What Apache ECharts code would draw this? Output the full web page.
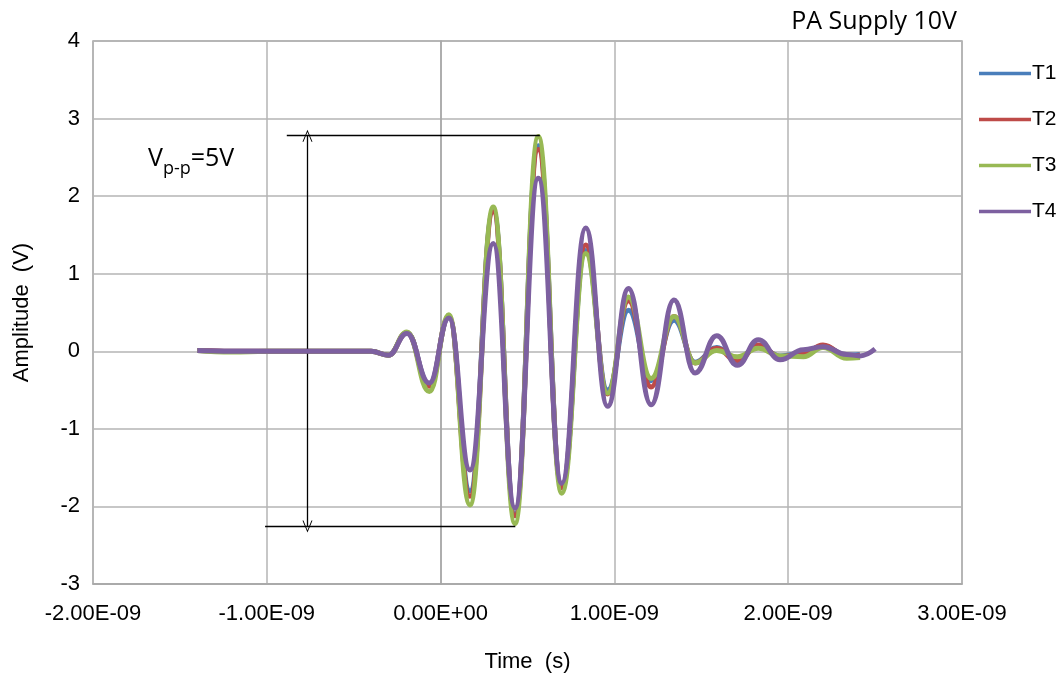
<!DOCTYPE html>
<html>
<head>
<meta charset="utf-8">
<script src="https://cdn.jsdelivr.net/npm/echarts@6/dist/echarts.min.js"></script>
<style>
html,body{margin:0;padding:0;background:#fff;}
#chart{width:1058px;height:673px;}
</style>
</head>
<body>
<div id="chart"></div>
<script>
// Time in ns (axis labels are shown in seconds)
const times = [-1.40, -1.20, -1.00, -0.80, -0.60, -0.40, -0.30, -0.194, -0.065, 0.048, 0.169, 0.303, 0.428, 0.562, 0.697, 0.835, 0.961, 1.081, 1.211, 1.343, 1.464, 1.589, 1.707, 1.828, 1.953, 2.087, 2.20, 2.337, 2.413, 2.50];
const T1 = [0.01, 0.00, 0.00, 0.00, 0.00, 0.00, -0.05, 0.24, -0.43, 0.44, -1.80, 1.82, -2.10, 2.65, -1.75, 1.30, -0.50, 0.53, -0.38, 0.40, -0.14, 0.05, -0.10, 0.07, -0.06, -0.02, 0.07, -0.05, -0.04, null];
const T2 = [0.01, 0.00, 0.00, 0.00, 0.00, 0.00, -0.05, 0.24, -0.45, 0.45, -1.87, 1.80, -2.12, 2.60, -1.76, 1.37, -0.55, 0.65, -0.46, 0.45, -0.15, 0.04, -0.13, 0.08, -0.07, -0.03, 0.08, -0.06, -0.05, null];
const T3 = [0.01, -0.01, 0.00, 0.00, 0.00, 0.00, -0.05, 0.25, -0.52, 0.47, -1.98, 1.86, -2.22, 2.77, -1.83, 1.26, -0.54, 0.70, -0.35, 0.45, -0.15, 0.01, -0.07, 0.04, -0.06, -0.07, 0.05, -0.09, -0.08, null];
const T4 = [0.01, 0.00, 0.00, 0.00, 0.00, 0.00, -0.05, 0.23, -0.41, 0.43, -1.53, 1.39, -2.02, 2.23, -1.70, 1.59, -0.71, 0.81, -0.69, 0.66, -0.28, 0.20, -0.18, 0.15, -0.11, 0.02, 0.06, -0.04, -0.06, 0.03];
const seriesNames = ['T1', 'T2', 'T3', 'T4'];
const seriesColors = ['#4a7ebb', '#be4b48', '#98b954', '#7d60a0'];
// Vp-p annotation (ns, V)
const vppTop = [[-0.885, 2.78], [0.571, 2.78]];
const vppBottom = [[-1.01, -2.26], [0.43, -2.26]];
const vppArrow = [[-0.766, 2.78], [-0.766, -2.26]];
const xTicks = {min: -2, max: 3, interval: 1};
const yTicks = {min: -3, max: 4, interval: 1};

function pairs(vals) {
  const out = [];
  for (let i = 0; i < times.length; i++) {
    if (vals[i] !== null) out.push([times[i], vals[i]]);
  }
  return out;
}
function fmtX(v) {
  if (Math.abs(v) < 1e-9) return '0.00E+00';
  return (v < 0 ? '-' : '') + Math.abs(v).toFixed(2) + 'E-09';
}
const allVals = [T1, T2, T3, T4];
const chevron = 'path://M0,10 L5,0 L10,10 L9,10 L5,2 L1,10 Z';
const series = seriesNames.map((n, i) => ({
  name: n,
  type: 'line',
  data: pairs(allVals[i]),
  smooth: 0.45,
  smoothMonotone: 'x',
  symbol: 'none',
  lineStyle: {color: seriesColors[i], width: 5},
  itemStyle: {color: seriesColors[i]},
  z: 2 + i
}));
series.push({
  name: 'annot',
  type: 'line',
  data: [],
  silent: true,
  markLine: {
    silent: true,
    symbol: ['none', 'none'],
    label: {show: false},
    lineStyle: {color: '#000', width: 1.3, type: 'solid'},
    emphasis: {disabled: true},
    data: [
      [{coord: vppTop[0]}, {coord: vppTop[1]}],
      [{coord: vppBottom[0]}, {coord: vppBottom[1]}],
      [{coord: vppArrow[0], symbol: chevron, symbolSize: [10, 12]}, {coord: vppArrow[1], symbol: chevron, symbolSize: [10, 12]}]
    ]
  }
});

const chart = echarts.init(document.getElementById('chart'));
chart.setOption({
  animation: false,
  backgroundColor: '#fff',
  textStyle: {fontFamily: 'Liberation Sans, Arial, sans-serif'},
  title: {
    text: 'PA Supply 10V',
    right: 96,
    top: 4,
    textStyle: {fontFamily: 'Open Sans, sans-serif', fontSize: 25, fontWeight: 'normal', color: '#000'}
  },
  legend: {
    data: seriesNames,
    orient: 'vertical',
    left: 974,
    top: 58,
    itemWidth: 52,
    itemHeight: 14,
    itemGap: 25,
    textStyle: {fontSize: 21, color: '#000', lineHeight: 20, padding: [0, 0, 0, -4]},
    icon: 'path://M0,6 L52,6 L52,9.5 L0,9.5 Z'
  },
  grid: {
    left: 93, top: 41, right: 96, bottom: 89,
    outerBoundsMode: 'none',
    containLabel: false,
    show: true, borderColor: '#a6a6a6', borderWidth: 1.5
  },
  xAxis: {
    type: 'value',
    min: xTicks.min, max: xTicks.max, interval: xTicks.interval,
    name: 'Time  (s)',
    nameLocation: 'middle',
    nameGap: 67,
    nameTextStyle: {fontSize: 22, color: '#000'},
    axisLine: {onZero: false, lineStyle: {color: '#a6a6a6', width: 1.5}},
    axisTick: {show: false},
    axisLabel: {formatter: fmtX, fontSize: 22, color: '#000', margin: 19},
    splitLine: {lineStyle: {color: '#b4b4b4', width: 1.5}}
  },
  yAxis: {
    type: 'value',
    min: yTicks.min, max: yTicks.max, interval: yTicks.interval,
    name: 'Amplitude  (V)',
    nameLocation: 'middle',
    nameGap: 60,
    nameTextStyle: {fontSize: 22, color: '#000'},
    axisLine: {lineStyle: {color: '#a6a6a6', width: 1.5}},
    axisTick: {show: false},
    axisLabel: {fontSize: 22, color: '#000', margin: 13},
    splitLine: {lineStyle: {color: '#b4b4b4', width: 1.5}}
  },
  graphic: [{
    type: 'text',
    left: 148,
    top: 146,
    style: {
      text: '{v|V}{s|p-p}{v|=5V}',
      rich: {
        v: {fontSize: 25, fontFamily: 'Open Sans, sans-serif', fill: '#000', verticalAlign: 'bottom'},
        s: {fontSize: 18, fontFamily: 'Open Sans, sans-serif', fill: '#000', verticalAlign: 'bottom', padding: [0, 0, -7, 0]}
      }
    }
  }],
  series: series
});
</script>
</body>
</html>
